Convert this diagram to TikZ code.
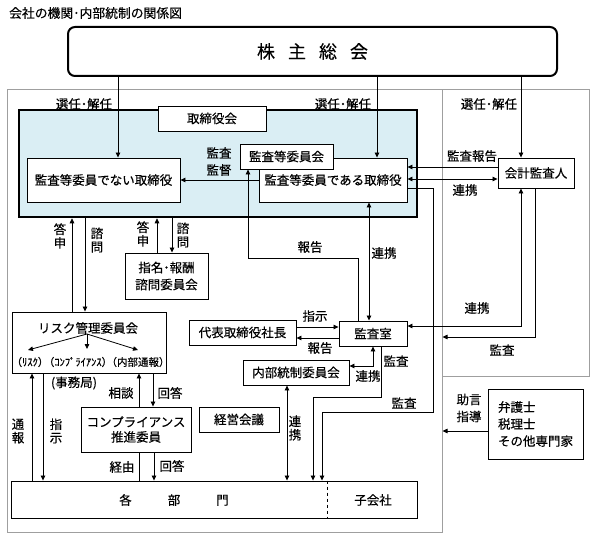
\documentclass[tikz,border=0pt]{standalone}
\usepackage{fontspec}
\setmainfont{Noto Sans CJK JP}[FakeBold=0.35]
\usetikzlibrary{arrows.meta,calc}
\pgfdeclarelayer{bg}
\pgfsetlayers{bg,main}
\definecolor{boardblue}{RGB}{218,238,244}
\begin{document}
\begin{tikzpicture}[x=1pt,y=-1pt,
  txt/.style={font=\fontsize{12.5}{17}\selectfont},
  box/.style={draw, line width=0.9pt, fill=white, inner sep=0pt, align=center, txt},
  lbl/.style={inner sep=0pt, align=center, txt},
  vlbl/.style={inner sep=0pt, align=center, font=\fontsize{12.5}{13.5}\selectfont},
  small/.style={inner sep=0pt, font=\fontsize{10.5}{11}\selectfont},
  frame/.style={draw=gray!75, line width=1pt, inner sep=0pt},
  arr/.style={-{Triangle[length=5pt,width=4.5pt]}, line width=0.8pt},
  darr/.style={{Triangle[length=5pt,width=4.5pt]}-{Triangle[length=5pt,width=4.5pt]}, line width=0.8pt},
  ln/.style={line width=0.8pt},
  dbl/.style={draw=black!80, line width=0.6pt, double=white, double distance=1.5pt}]
\useasboundingbox (0,0) rectangle (596,540);

% frames
\node[frame, minimum width=435, minimum height=442] (inner) at (224.5,311) {};
\node[frame, minimum width=147, minimum height=286] (ext) at (515.5,233) {};

\node[lbl, anchor=west, font=\fontsize{12.8}{14}\selectfont] (title) at (9,13) {会社の機関･内部統制の関係図};

\node[draw, line width=2pt, rounded corners=7pt, fill=white, minimum width=489, minimum height=49, inner sep=0pt,
  font=\fontsize{18}{20}\selectfont] (sh) at (312.5,51.5) {株\hspace{13pt}主\hspace{13pt}総\hspace{13pt}会};

\node[draw, line width=2.5pt, fill=boardblue, minimum width=398, minimum height=107, inner sep=0pt] (board) at (218,163.5) {};
\node[box, minimum width=108, minimum height=25] (tbk) at (212,118.5) {取締役会};
\node[box, minimum width=153, minimum height=44] (nonaudit) at (103.5,180) {監査等委員でない取締役};
\node[box, minimum width=148, minimum height=44] (auditdir) at (333,180) {\raisebox{-2pt}{監査等委員である取締役}};
\node[box, minimum width=93, minimum height=25] (acomm) at (286.5,156.5) {監査等委員会};
\node[box, minimum width=76, minimum height=30] (acct) at (536,173) {会計監査人};
\node[box, minimum width=83, minimum height=46] (nom) at (166.5,276) {指名･報酬\\諮問委員会};
\node[box, minimum width=154, minimum height=61] (risk) at (89,342.5) {};
\node[lbl] (risktitle) at (88,328) {リスク管理委員会};
\node[box, minimum width=107, minimum height=25] (rep) at (242.5,332.5) {代表取締役社長};
\node[box, minimum width=68, minimum height=25] (aroom) at (373,333.5) {監査室};
\node[box, minimum width=106, minimum height=25] (ictrl) at (296,372.5) {内部統制委員会};
\node[box, minimum width=80, minimum height=25] (keiei) at (239,419.5) {経営会議};
\node[box, minimum width=110, minimum height=45, font=\fontsize{12.5}{15}\selectfont] (comp) at (136,429.5) {コンプライアンス\\推進委員};
\node[box, minimum width=406, minimum height=37] (depts) at (214,499.5) {};
\node[lbl] (deptstxt) at (174,500) {各\hspace{36pt}部\hspace{36pt}門};
\node[lbl] (sub) at (373,500) {子会社};
\node[box, minimum width=95, minimum height=70, align=left] (experts) at (535.5,424) {弁護士\\税理士\\その他専門家};

% small labels in risk box
\node[small] (r1) at (30,362) {（ﾘｽｸ）};
\node[small] (r2) at (78,362) {（ｺﾝﾌﾟﾗｲｱﾝｽ）};
\node[small] (r3) at (138,362) {（内部通報）};
\coordinate (fan) at (87,334);
\coordinate (f1) at (28,350);
\coordinate (f2) at (87,349);
\coordinate (f3) at (138,350);

% labels
\node[lbl] (s1) at (84,104) {選任･解任};
\node[lbl] (s2) at (343,104) {選任･解任};
\node[lbl] (s3) at (489,104) {選任･解任};
\node[lbl] (kk) at (219,161.5) {監査\\監督};
\node[lbl] (kh) at (472,156) {監査報告};
\node[lbl] (rk1) at (465,190) {連携};
\node[lbl] (hk1) at (310,247) {報告};
\node[lbl] (rk2) at (384,253) {連携};
\node[lbl] (rk3) at (477,308) {連携};
\node[lbl] (ks1) at (502,350) {監査};
\node[lbl] (sj1) at (315,316) {指示};
\node[lbl] (hk2) at (320,348) {報告};
\node[lbl] (ks2) at (396,361) {監査};
\node[lbl] (rk4) at (368,376) {連携};
\node[lbl] (ks3) at (404,403) {監査};
\node[vlbl] (rk5) at (295,428) {連\\携};
\node[vlbl] (ts1) at (60,236) {答\\申};
\node[vlbl] (sm1) at (97,240) {諮\\問};
\node[vlbl] (ts2) at (143,234) {答\\申};
\node[vlbl] (sm2) at (183,235) {諮\\問};
\node[lbl] (jim) at (74,383) {(事務局)};
\node[vlbl] (tp) at (18,431) {通\\報};
\node[vlbl] (sj2) at (56,431) {指\\示};
\node[lbl] (sd) at (121,393) {相談};
\node[lbl] (kt1) at (170,393) {回答};
\node[lbl] (ky) at (122,467) {経由};
\node[lbl] (kt2) at (172,466) {回答};
\node[lbl] (jg) at (469,408) {助言\\指導};

% double lines (behind)
\begin{pgfonlayer}{bg}
\draw[dbl] (227,0 |- board.south) -- (227,0 |- depts.north);
\draw[dbl] (risk.east |- 0,332) -- (rep.west |- 0,332);
\draw[dbl] (228,372) -- (ictrl.west |- 0,372);
\draw[dbl] (228,448) -- (377,448) -- (377,0 |- depts.north);
\end{pgfonlayer}

% connectors
\draw[arr] (118,0 |- sh.south) -- (118,0 |- nonaudit.north);
\draw[arr] (377,0 |- sh.south) -- (377,0 |- auditdir.north);
\draw[arr] (521,0 |- sh.south) -- (521,0 |- acct.north);
\draw[arr] (auditdir.west) -- (nonaudit.east);
\draw[arr] (acct.west |- 0,167) -- (auditdir.east |- 0,167);
\draw[darr] (auditdir.east |- 0,179) -- (acct.west |- 0,179);
\draw[arr] (auditdir.east |- 0,188) -- (433,188) -- (433,412) -- (322,412) -- (322,0 |- depts.north);
\draw[arr] (358,0 |- aroom.north) -- (358,258) -- (248,258) -- (248,0 |- acomm.south);
\draw[darr] (369,0 |- auditdir.south) -- (369,0 |- aroom.north);
\draw[darr] (aroom.east |- 0,326) -- (521,326) -- (521,0 |- acct.south);
\draw[arr] (535,0 |- acct.south) -- (535,337) -- (inner.east |- 0,337);
\draw[arr] (rep.east |- 0,327) -- (aroom.west |- 0,327);
\draw[arr] (aroom.west |- 0,338) -- (rep.east |- 0,338);
\draw[darr] (ictrl.east |- 0,366) -- (373,366) -- (373,0 |- aroom.south);
\draw[arr] (381,0 |- aroom.south) -- (381,397) -- (313,397) -- (313,0 |- depts.north);
\draw[darr] (287,0 |- ictrl.south) -- (287,0 |- depts.north);
\draw[arr] (157,0 |- nom.north) -- (157,0 |- board.south);
\draw[arr] (172,0 |- board.south) -- (172,0 |- nom.north);
\draw[arr] (72,0 |- risk.north) -- (72,0 |- board.south);
\draw[arr] (85,0 |- board.south) -- (85,0 |- risk.north);
\draw[arr] (fan) -- (f1);
\draw[arr] (fan) -- (f2);
\draw[arr] (fan) -- (f3);
\draw[arr] (32,0 |- depts.north) -- (32,0 |- risk.south);
\draw[arr] (43,0 |- risk.south) -- (43,0 |- depts.north);
\draw[arr] (139,0 |- comp.north) -- (139,0 |- risk.south);
\draw[arr] (153,0 |- risk.south) -- (153,0 |- comp.north);
\draw[ln] (139,0 |- comp.south) -- (139,0 |- depts.north);
\draw[arr] (154,0 |- comp.south) -- (154,0 |- depts.north);
\draw[arr] (experts.west |- 0,431) -- (inner.east |- 0,431);
\draw[dashed, line width=0.8pt] (327,0 |- depts.north) -- (327,0 |- depts.south);
\end{tikzpicture}
\end{document}
